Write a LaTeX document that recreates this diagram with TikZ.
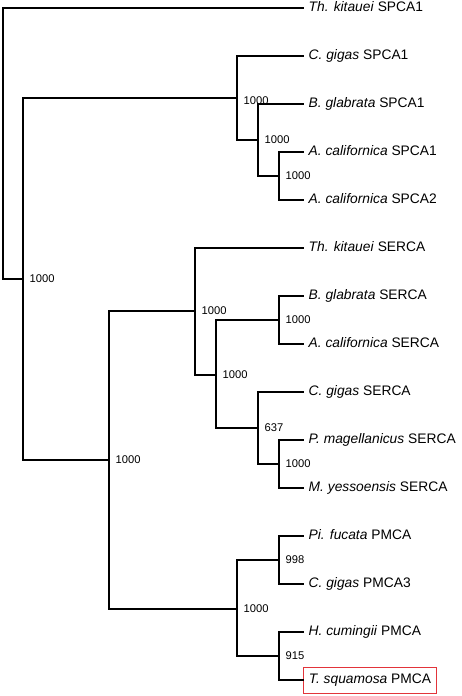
\documentclass[tikz,border=0pt]{standalone}
\usepackage{fontspec}
\setmainfont{Liberation Sans}
\usetikzlibrary{positioning}
\definecolor{boxred}{RGB}{226,52,58}

\tikzset{
  br/.style={line width=1.7pt,line cap=rect},
  leaf/.style={anchor=west,inner xsep=5.5pt,inner ysep=6.8pt,font=\fontsize{13.8}{15}\selectfont,text height=9.7pt,text depth=2.7pt},
  bs/.style={anchor=west,inner xsep=6.5pt,inner ysep=0pt,font=\fontsize{11.2}{12}\selectfont},
  mark box/.style={draw=boxred,line width=0.8pt}
}

\begin{document}
\begin{tikzpicture}[x=1pt,y=-1pt]
\useasboundingbox (0,0) rectangle (461,696);
% leaves
\node[leaf] (l1) at (303,8) {\textit{Th. kitauei} SPCA1};
\node[leaf] (l2) at (303,56) {\textit{C. gigas} SPCA1};
\node[leaf] (l3) at (303,104) {\textit{B. glabrata} SPCA1};
\node[leaf] (l4) at (303,152) {\textit{A. californica} SPCA1};
\node[leaf] (l5) at (303,200) {\textit{A. californica} SPCA2};
\node[leaf] (l6) at (303,248) {\textit{Th. kitauei} SERCA};
\node[leaf] (l7) at (303,296) {\textit{B. glabrata} SERCA};
\node[leaf] (l8) at (303,344) {\textit{A. californica} SERCA};
\node[leaf] (l9) at (303,392) {\textit{C. gigas} SERCA};
\node[leaf] (l10) at (303,440) {\textit{P. magellanicus} SERCA};
\node[leaf] (l11) at (303,488) {\textit{M. yessoensis} SERCA};
\node[leaf] (l12) at (303,536) {\textit{Pi. fucata} PMCA};
\node[leaf] (l13) at (303,584) {\textit{C. gigas} PMCA3};
\node[leaf] (l14) at (303,632) {\textit{H. cumingii} PMCA};
\node[leaf,mark box] (l15) at (303,680) {\textit{T. squamosa} PMCA};
% inner nodes
\coordinate (r0) at (3,143);
\coordinate (n1) at (23,279);
\coordinate (n2) at (237,98);
\coordinate (n3) at (258,140);
\coordinate (n4) at (279,176);
\coordinate (n6) at (109,460);
\coordinate (n7) at (195,311);
\coordinate (n8) at (216,375);
\coordinate (n9) at (279,320);
\coordinate (n10) at (258,428);
\coordinate (n11) at (279,464);
\coordinate (n12) at (237,609);
\coordinate (n13) at (279,560);
\coordinate (n14) at (279,656);
% bootstrap values
\node[bs] (b1) at (n1) {1000};
\node[bs] (b2) at ([yshift=-3pt]n2) {1000};
\node[bs] (b3) at (n3) {1000};
\node[bs] (b4) at (n4) {1000};
\node[bs] (b6) at (n6) {1000};
\node[bs] (b7) at (n7) {1000};
\node[bs] (b8) at (n8) {1000};
\node[bs] (b9) at (n9) {1000};
\node[bs] (b10) at (n10) {637};
\node[bs] (b11) at (n11) {1000};
\node[bs] (b12) at (n12) {1000};
\node[bs] (b13) at (n13) {998};
\node[bs] (b14) at (n14) {915};
% branches
\draw[br] (l1.west) -| (r0) |- (n1);
\draw[br] (n2) -| (n1) |- (n6);
\draw[br] (l2.west) -| (n2) |- (n3);
\draw[br] (l3.west) -| (n3) |- (n4);
\draw[br] (l4.west) -| (n4) |- (l5.west);
\draw[br] (n7) -| (n6) |- (n12);
\draw[br] (l6.west) -| (n7) |- (n8);
\draw[br] (n9) -| (n8) |- (n10);
\draw[br] (l7.west) -| (n9) |- (l8.west);
\draw[br] (l9.west) -| (n10) |- (n11);
\draw[br] (l10.west) -| (n11) |- (l11.west);
\draw[br] (n13) -| (n12) |- (n14);
\draw[br] (l12.west) -| (n13) |- (l13.west);
\draw[br] (l14.west) -| (n14) |- (l15.west);
\end{tikzpicture}
\end{document}
